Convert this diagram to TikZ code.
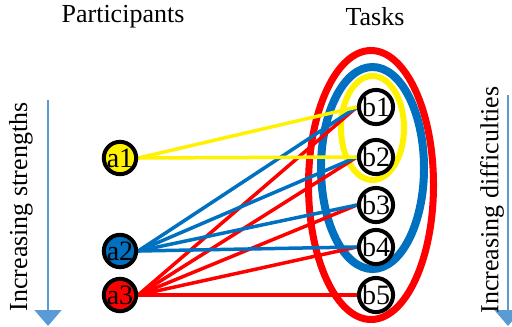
\documentclass[tikz,border=0pt]{standalone}
\usepackage{fontspec}
\setmainfont{Liberation Serif}
\usetikzlibrary{arrows.meta,backgrounds}

\definecolor{taskblue}{RGB}{0,112,192}
\definecolor{arrowblue}{RGB}{91,155,213}

\begin{document}
\begin{tikzpicture}[
        x=0.5pt, y=-0.5pt,
        font=\fontsize{13}{15}\selectfont,
        agent/.style={circle, draw=black, line width=2pt, minimum size=16pt, inner sep=0pt,
                font=\fontsize{14}{16}\selectfont},
        task/.style={agent, fill=white},
        link/.style={line width=1.75pt},
        scale arrow/.style={draw=arrowblue, line width=1pt,
                -{Triangle[width=13.5pt, length=8pt]}}
    ]
    \useasboundingbox (0,0) rectangle (512,326);

    % Headings
    \node (partTitle) at (123,17) {Participants};
    \node (taskTitle) at (375,17) {Tasks};

    % Participants
    \node[agent, fill=yellow] (a1) at (120,158) {a1};
    \node[agent, fill=taskblue] (a2) at (120,251) {a2};
    \node[agent, fill=red] (a3) at (120,295) {a3};

    % Tasks
    \node[task] (b1) at (376,107) {b1};
    \node[task] (b2) at (376,157) {b2};
    \node[task] (b3) at (376,205) {b3};
    \node[task] (b4) at (376,247) {b4};
    \node[task] (b5) at (376,295) {b5};

    \begin{scope}[on background layer]
        % Groups of tasks
        \draw[red, line width=3.5pt] (371,185) ellipse [x radius=31.25pt, y radius=67.25pt];
        \draw[taskblue, line width=4pt] (372.5,168) ellipse [x radius=25.75pt, y radius=50.5pt];
        \draw[yellow, line width=3pt] (372.5,128) ellipse [x radius=15.75pt, y radius=26pt];

        % Links
        \foreach \t in {1,...,5}
            \draw[link, red] (a3.east) -- (b\t.west);
        \foreach \t in {1,...,4}
            \draw[link, taskblue] (a2.east) -- (b\t.west);
        \foreach \t in {1,2}
            \draw[link, yellow] (a1.east) -- (b\t.west);
    \end{scope}

    % Scales
    \coordinate (strTop) at (48,100);
    \coordinate (strEnd) at (48,326);
    \draw[scale arrow] (strTop) -- (strEnd);
    \node[rotate=90] (strLabel) at (21,207) {Increasing strengths};

    \coordinate (difTop) at (508,95);
    \coordinate (difEnd) at (508,326);
    \draw[scale arrow] (difTop) -- (difEnd);
    \node[rotate=90] (difLabel) at (492,200) {Increasing difficulties};
\end{tikzpicture}
\end{document}
